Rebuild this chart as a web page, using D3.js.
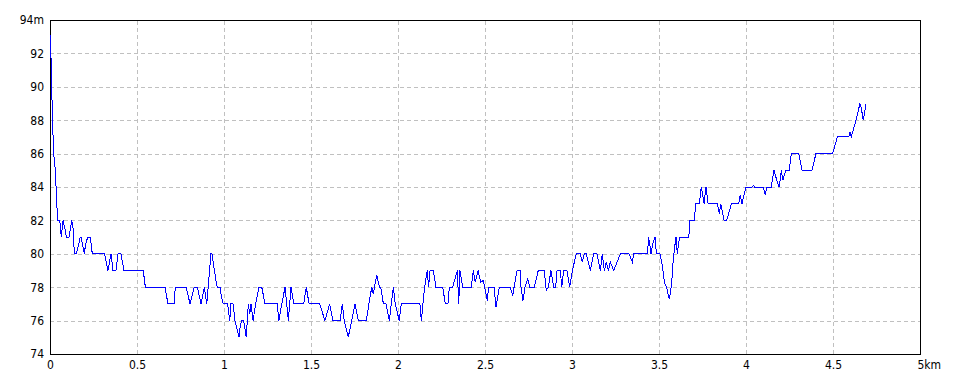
<!DOCTYPE html>
<html>
<head>
<meta charset="utf-8">
<script src="https://cdn.jsdelivr.net/npm/d3@7"></script>
<style>
    html, body { margin: 0; padding: 0; background: #fff; }
    svg { display: block; }
    .tick text { font-family: "Liberation Sans Narrow", "DejaVu Sans Condensed", "Liberation Sans", sans-serif; font-size: 12px; fill: #000; }
</style>
</head>
<body>
<svg id="chart" width="960" height="384"></svg>
<script>
// distance along the route, km
const distKm = [
    0.000, 0.006, 0.011, 0.017, 0.023, 0.029, 0.034, 0.040, 0.046, 0.056,
    0.065, 0.075, 0.086, 0.094, 0.109, 0.117, 0.125, 0.132, 0.140, 0.151,
    0.163, 0.174, 0.178, 0.186, 0.197, 0.205, 0.217, 0.232, 0.243, 0.314,
    0.333, 0.351, 0.362, 0.379, 0.391, 0.408, 0.425, 0.536, 0.548, 0.661,
    0.678, 0.713, 0.720, 0.782, 0.805, 0.829, 0.847, 0.868, 0.887, 0.901,
    0.925, 0.931, 0.939, 0.947, 0.954, 0.961, 0.977, 0.984, 0.996, 1.011,
    1.021, 1.033, 1.040, 1.052, 1.063, 1.086, 1.094, 1.102, 1.113, 1.128,
    1.140, 1.148, 1.155, 1.167, 1.182, 1.201, 1.217, 1.236, 1.305, 1.316,
    1.332, 1.351, 1.370, 1.385, 1.401, 1.458, 1.473, 1.489, 1.550, 1.580,
    1.607, 1.626, 1.668, 1.680, 1.691, 1.714, 1.734, 1.753, 1.772, 1.818,
    1.833, 1.849, 1.858, 1.870, 1.878, 1.885, 1.893, 1.901, 1.916, 1.931,
    1.950, 1.973, 1.984, 2.007, 2.019, 2.126, 2.134, 2.153, 2.168, 2.176,
    2.184, 2.203, 2.218, 2.257, 2.272, 2.287, 2.295, 2.314, 2.341, 2.349,
    2.356, 2.372, 2.421, 2.433, 2.444, 2.460, 2.475, 2.490, 2.513, 2.521,
    2.552, 2.563, 2.582, 2.644, 2.659, 2.667, 2.684, 2.703, 2.707, 2.718,
    2.730, 2.745, 2.757, 2.783, 2.806, 2.841, 2.852, 2.864, 2.879, 2.895,
    2.906, 2.914, 2.933, 2.941, 2.952, 2.971, 2.987, 3.002, 3.025, 3.048,
    3.059, 3.071, 3.082, 3.105, 3.125, 3.144, 3.163, 3.174, 3.186, 3.197,
    3.209, 3.220, 3.240, 3.278, 3.328, 3.347, 3.355, 3.435, 3.439, 3.447,
    3.454, 3.462, 3.470, 3.477, 3.485, 3.506, 3.517, 3.525, 3.533, 3.544,
    3.552, 3.559, 3.567, 3.575, 3.582, 3.590, 3.598, 3.605, 3.613, 3.621,
    3.671, 3.678, 3.705, 3.709, 3.732, 3.743, 3.759, 3.770, 3.782, 3.835,
    3.847, 3.855, 3.874, 3.889, 3.916, 3.958, 3.966, 3.977, 4.000, 4.034,
    4.042, 4.050, 4.099, 4.111, 4.119, 4.145, 4.161, 4.177, 4.191, 4.203,
    4.211, 4.230, 4.249, 4.260, 4.303, 4.322, 4.379, 4.402, 4.498, 4.525,
    4.590, 4.598, 4.605, 4.632, 4.655, 4.663, 4.674, 4.690
];

// elevation, m
const elevM = [
    93.1, 91.7, 89.4, 87.2, 85.8, 85.2, 84.2, 82.8, 82, 82,
    81, 82, 81.5, 81, 81, 81.5, 82, 81.6, 80, 80,
    80.5, 81, 81, 80.6, 80, 80.6, 81, 81, 80, 80,
    79, 80, 79, 79, 80, 80, 79, 79, 78, 78,
    77, 77, 78, 78, 77, 78, 78, 77, 78, 77,
    80, 80, 79.4, 78.9, 78.4, 78, 78, 77.5, 77, 77,
    77, 76, 77, 77, 76, 75, 75.7, 76, 76, 75,
    77, 76.4, 77, 76, 77, 78, 78, 77, 77, 76,
    77, 78, 76, 78, 77, 77, 78, 77, 77, 76,
    77, 76, 76, 77, 76, 75, 76, 77, 76, 76,
    77, 78, 77.6, 78.3, 78.7, 78.4, 78, 78, 77, 77,
    76, 78, 77, 76, 77, 77, 76, 78, 79, 78,
    79, 79, 78, 78, 77, 77, 78, 78, 79, 77,
    79, 78, 78, 79, 78.3, 79, 78.3, 78.4, 77.2, 78,
    78, 76.8, 78, 78, 77.5, 78, 79, 79, 78, 77.2,
    78, 78.5, 78, 78, 79, 79, 77.8, 78, 79, 78,
    78, 79, 79, 78, 79, 79, 78, 79, 80, 80,
    79.5, 80, 80, 79, 80, 80, 79, 80, 79, 79.5,
    79, 79.5, 79, 80, 80, 79.5, 80, 80, 81, 80.6,
    80, 80.5, 80.8, 81, 80, 80, 79.4, 78.8, 78.2, 78,
    77.6, 77.3, 77.7, 78.6, 79.7, 80.4, 81, 80, 80.7, 81,
    81, 82, 82, 83, 83, 84, 83, 84, 83, 83,
    82.4, 83, 82, 82, 83, 83, 83.5, 83, 84, 84,
    84.1, 84, 84, 83.5, 84, 84, 85, 84.4, 84, 85,
    84.4, 85, 85, 86, 86, 85, 85, 86, 86, 87,
    87, 87.3, 87, 88, 89, 88.7, 88, 89
];

const xTicks = [0, 0.5, 1, 1.5, 2, 2.5, 3, 3.5, 4, 4.5, 5];
const yTicks = [74, 76, 78, 80, 82, 84, 86, 88, 90, 92, 94];
const xUnit = 'km';
const yUnit = 'm';

const margin = {top: 20, right: 40, bottom: 30, left: 50};
const width = 960 - margin.left - margin.right;
const height = 384 - margin.top - margin.bottom;

const svg = d3.select('#chart');
const g = svg.append('g')
    .attr('transform', 'translate(' + margin.left + ',' + margin.top + ')');

const x = d3.scaleLinear().domain([0, 5]).range([0, width]);
const y = d3.scaleLinear().domain([74, 94]).range([height, 0]);

// grid + labels, y
const yAxis = g.append('g')
    .call(d3.axisLeft(y)
        .tickValues(yTicks)
        .tickSize(-width)
        .tickSizeOuter(0)
        .tickPadding(6)
        .tickFormat((d) => d === 94 ? d + yUnit : d));

// grid + labels, x
const xAxis = g.append('g')
    .attr('transform', 'translate(0,' + height + ')')
    .call(d3.axisBottom(x)
        .tickValues(xTicks)
        .tickSize(-height)
        .tickSizeOuter(0)
        .tickPadding(6)
        .tickFormat((d) => d === 5 ? d + xUnit : d));

[xAxis, yAxis].forEach((ax) => {
    ax.select('.domain').remove();
    ax.selectAll('.tick line')
        .attr('stroke', '#c0c0c0')
        .attr('stroke-dasharray', '4,3')
        .attr('shape-rendering', 'crispEdges');
});
// the end ticks sit on the frame
yAxis.selectAll('.tick line').filter((d) => d === 74 || d === 94).remove();
xAxis.selectAll('.tick line').filter((d) => d === 0 || d === 5).remove();

// keep the number centred on the last tick, unit hangs to the right
xAxis.selectAll('.tick text').filter((d) => d === 5)
    .attr('text-anchor', 'start')
    .attr('x', -3);

// frame
g.append('rect')
    .attr('x', 0.5)
    .attr('y', 0.5)
    .attr('width', width)
    .attr('height', height)
    .attr('fill', 'none')
    .attr('stroke', '#000')
    .attr('shape-rendering', 'crispEdges');

const line = d3.line()
    .x((d) => x(d[0]))
    .y((d) => y(d[1]));

g.append('path')
    .datum(d3.zip(distKm, elevM))
    .attr('d', line)
    .attr('fill', 'none')
    .attr('stroke', '#0000ff')
    .attr('stroke-width', 1)
    .attr('shape-rendering', 'crispEdges');
</script>
</body>
</html>
